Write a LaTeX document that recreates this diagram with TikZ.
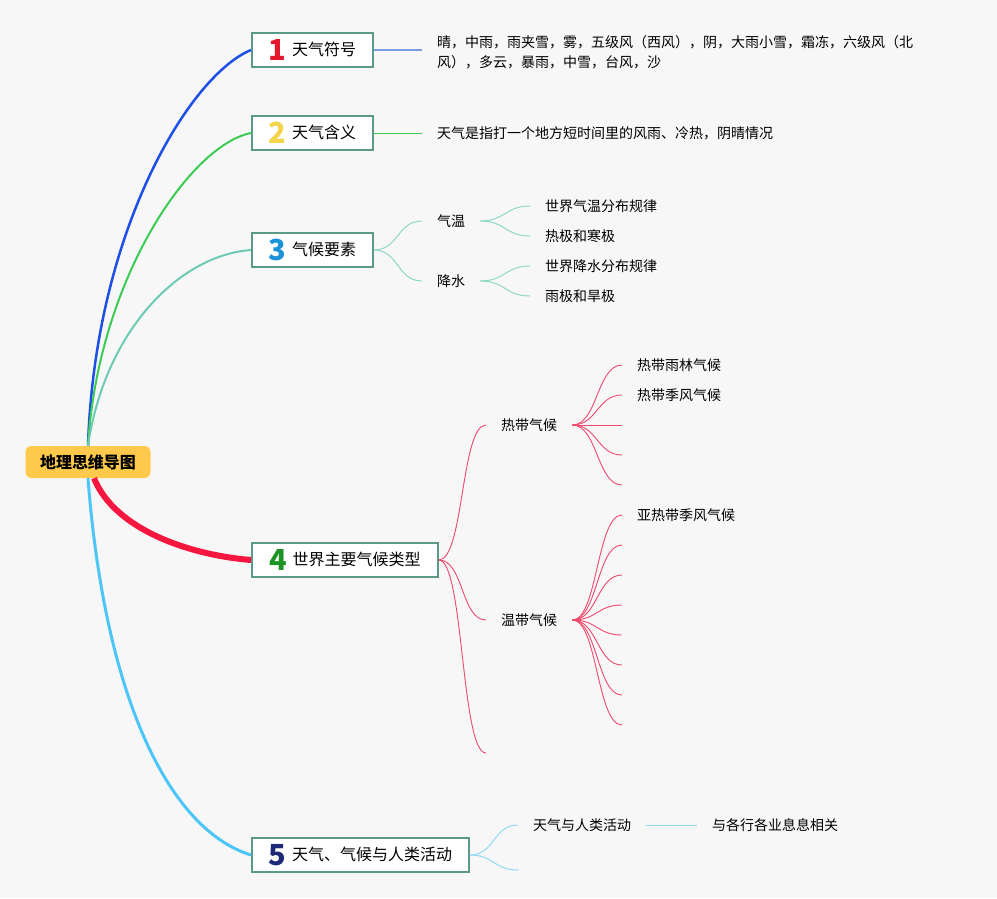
\documentclass[tikz,border=0pt]{standalone}
\usepackage{fontspec}
\setmainfont{Noto Sans CJK SC}
\usepackage{tikz}
\usepackage{xcolor}

\definecolor{bgcol}{HTML}{F7F7F8}
\definecolor{rootcol}{HTML}{FFCA4C}
\definecolor{boxline}{HTML}{5B9A87}
\definecolor{cone}{HTML}{1E4FE6}
\definecolor{conesub}{HTML}{7B9BE2}
\definecolor{ctwo}{HTML}{3CCB55}
\definecolor{cthree}{HTML}{6ECBB3}
\definecolor{cthreesub}{HTML}{8FD8C5}
\definecolor{cfour}{HTML}{F5173F}
\definecolor{cfoursub}{HTML}{EC4A6C}
\definecolor{cfive}{HTML}{4DC6F7}
\definecolor{cfivesub}{HTML}{92D8F5}
\definecolor{nred}{HTML}{E3182F}
\definecolor{nyellow}{HTML}{F4D44A}
\definecolor{nblue}{HTML}{1B93DA}
\definecolor{ngreen}{HTML}{1D9325}
\definecolor{nnavy}{HTML}{1D2A78}

\newcommand\bignum[2]{\raisebox{-5pt}{\color{#1}\fontsize{29}{29}\selectfont\bfseries #2}\hspace{6pt}}

\tikzset{
  topic/.style={draw=boxline, line width=1.8pt, fill=white, anchor=west,
    minimum height=34pt, inner xsep=0pt, inner ysep=0pt,
    font=\fontsize{16}{18}\selectfont},
  leaf/.style={anchor=west, inner xsep=15pt, inner ysep=2pt,
    font=\fontsize{14}{20}\selectfont},
  sc/.style={to path={.. controls +(25,0) and +(-25,0) .. (\tikztotarget)}},
}

\begin{document}
\begin{tikzpicture}[x=1pt, y=-1pt]
  \fill[bgcol] (0,0) rectangle (997,898);
  \useasboundingbox (0,0) rectangle (997,898);

  \node[fill=rootcol, rounded corners=6pt, minimum width=125pt, minimum height=32pt,
    font=\fontsize{16}{18}\selectfont\bfseries] (root) at (88,462) {地理思维导图};

  \node[topic, minimum width=121pt] (b1) at (251,50) {\bignum{nred}{1}天气符号};
  \node[topic, minimum width=121pt] (b2) at (251,133) {\bignum{nyellow}{2}天气含义};
  \node[topic, minimum width=121pt] (b3) at (251,250) {\bignum{nblue}{3}气候要素};
  \node[topic, minimum width=186pt] (b4) at (251,560) {\bignum{ngreen}{4}世界主要气候类型};
  \node[topic, minimum width=217pt] (b5) at (251,855) {\bignum{nnavy}{5}天气、气候与人类活动};

  \draw[cone, line width=2.5pt] (root.north) .. controls (95,230) and (190,75) .. (b1.west);
  \draw[ctwo, line width=2pt] (root.north) .. controls (98,280) and (190,145) .. (b2.west);
  \draw[cthree, line width=2pt] (root.north) .. controls (105,330) and (180,255) .. (b3.west);
  \draw[cfour, line width=6pt] ([xshift=6pt]root.south) .. controls (115,530) and (190,555) .. (b4.west);
  \draw[cfive, line width=3pt] (root.south) .. controls (105,700) and (170,830) .. (b5.west);

  % 1
  \node[leaf, align=left] (t1) at (422,52)
    {晴，中雨，雨夹雪，雾，五级风（西风），阴，大雨小雪，霜冻，六级风（北\\风），多云，暴雨，中雪，台风，沙};
  \draw[conesub, line width=1.2pt] (b1.east) -- (b1.east -| t1.west);

  % 2
  \node[leaf] (t2) at (422,133) {天气是指打一个地方短时间里的风雨、冷热，阴晴情况};
  \draw[ctwo, line width=0.8pt] (b2.east) -- (t2.west);

  % 3
  \node[leaf] (qw) at (422,221) {气温};
  \node[leaf] (js) at (422,281) {降水};
  \node[leaf] (qw1) at (530,206) {世界气温分布规律};
  \node[leaf] (qw2) at (530,236) {热极和寒极};
  \node[leaf] (js1) at (530,266) {世界降水分布规律};
  \node[leaf] (js2) at (530,296) {雨极和旱极};
  \begin{scope}[cthreesub, line width=1pt]
    \draw (b3.east) to[sc] (qw.west);
    \draw (b3.east) to[sc] (js.west);
    \draw (qw.east) to[sc] (qw1.west);
    \draw (qw.east) to[sc] (qw2.west);
    \draw (js.east) to[sc] (js1.west);
    \draw (js.east) to[sc] (js2.west);
  \end{scope}

  % 4
  \node[leaf] (rd) at (486,425) {热带气候};
  \node[leaf] (wd) at (486,620) {温带气候};
  \coordinate (e4) at (486,753);
  \node[leaf] (rd1) at (622,365) {热带雨林气候};
  \node[leaf] (rd2) at (622,395) {热带季风气候};
  \node[leaf] (wd1) at (622,515) {亚热带季风气候};
  \begin{scope}[cfoursub, line width=0.9pt]
    \draw (b4.east) to[sc] (rd.west);
    \draw (b4.east) to[sc] (wd.west);
    \draw (b4.east) to[sc] (e4);
    \draw (rd.east) to[sc] (rd1.west);
    \draw (rd.east) to[sc] (rd2.west);
    \foreach \y in {425,455,485} {
      \coordinate (r\y) at (622,\y);
      \draw (rd.east) to[sc] (r\y);
    }
    \draw (wd.east) to[sc] (wd1.west);
    \foreach \y in {545,575,605,635,665,695,725} {
      \coordinate (w\y) at (622,\y);
      \draw (wd.east) to[sc] (w\y);
    }
  \end{scope}

  % 5
  \node[leaf] (hd) at (518,825) {天气与人类活动};
  \coordinate (e5) at (518,870);
  \node[leaf] (xg) at (697,825) {与各行各业息息相关};
  \begin{scope}[cfivesub, line width=1pt]
    \draw (b5.east) to[sc] (hd.west);
    \draw (b5.east) to[sc] (e5);
    \draw (hd.east) -- (xg.west);
  \end{scope}
\end{tikzpicture}
\end{document}
